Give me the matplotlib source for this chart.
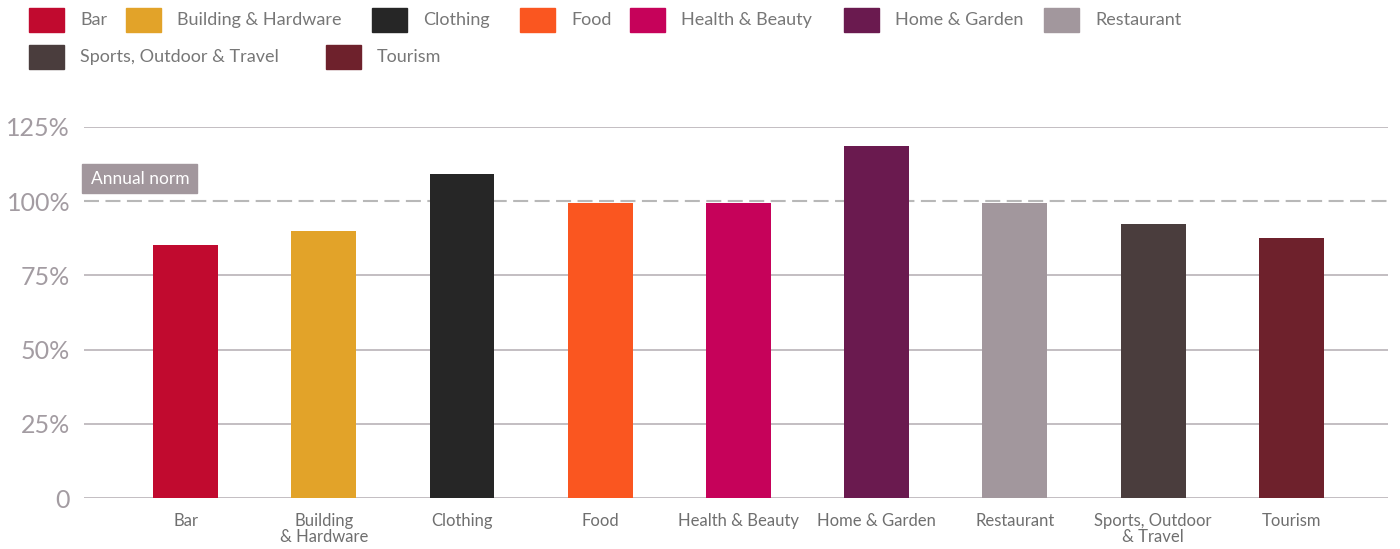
import matplotlib.pyplot as plt
from matplotlib.patches import Rectangle

plt.rcParams['font.family'] = ['Lato', 'DejaVu Sans']

categories = ["Bar", "Building & Hardware", "Clothing", "Food", "Health & Beauty",
              "Home & Garden", "Restaurant", "Sports, Outdoor & Travel", "Tourism"]
tick_labels = ["Bar", "Building\n& Hardware", "Clothing", "Food", "Health & Beauty",
               "Home & Garden", "Restaurant", "Sports, Outdoor\n& Travel", "Tourism"]
values = [85.2, 90.0, 109.2, 99.4, 99.4, 118.6, 99.4, 92.3, 87.6]
colors = ["#C10A2F", "#E2A329", "#262626", "#FA5620", "#C6025A",
          "#6A1A4F", "#A2979D", "#4A3D3D", "#6E212C"]
y_ticks = [0, 25, 50, 75, 100, 125]
y_tick_labels = ["0", "25%", "50%", "75%", "100%", "125%"]
norm = 100

W, H = 1400, 549
fig = plt.figure(figsize=(W / 100, H / 100), dpi=100)
ax = fig.add_axes([84 / W, 1 - 498 / H, (1388 - 84) / W, (498 - 127) / H])

x = range(len(categories))
ax.bar(x, values, width=0.47, color=colors, zorder=3)
ax.set_xlim(-0.735, 8.70)
ax.set_ylim(0, 125)

ax.set_yticks(y_ticks)
ax.set_yticklabels(y_tick_labels, fontsize=18, color="#a39ca2")
ax.set_xticks(list(x))
ax.set_xticklabels(tick_labels, fontsize=12, color="#6f6f6f", linespacing=0.95)
ax.tick_params(axis="y", length=0, pad=10)
ax.tick_params(axis="x", length=0, pad=11)
for s in ax.spines.values():
    s.set_visible(False)
ax.grid(axis="y", color="#c3bec2", linewidth=1.4, zorder=0)
ax.grid(axis="x", visible=False)
for t in ax.get_ygridlines():
    if t.get_ydata()[0] == norm:
        t.set_visible(False)

# annual norm reference line and its tag
ax.axhline(norm, color="#b8b8b8", linewidth=1.5, dashes=(7.2, 3.1), zorder=2)
fig.patches.append(Rectangle((82 / W, 1 - 193 / H), 115 / W, 29 / H,
                             transform=fig.transFigure, color="#A2979D"))
fig.text(91 / W, 1 - 179 / H, "Annual norm", fontsize=12.5, color="white",
         va="center", ha="left")

# legend laid out as two wrapped rows
legend_pos = [(29, 20), (126, 20), (372, 20), (520, 20), (630, 20), (844, 20), (1044, 20),
              (29, 57), (326, 57)]
for (px, py), lab, c in zip(legend_pos, categories, colors):
    fig.patches.append(Rectangle((px / W, 1 - (py + 12) / H), 35 / W, 24 / H,
                                 transform=fig.transFigure, color=c))
    fig.text((px + 51) / W, 1 - py / H, lab, fontsize=13, color="#777777",
             va="center", ha="left")

fig.savefig("out.png", dpi=100)
